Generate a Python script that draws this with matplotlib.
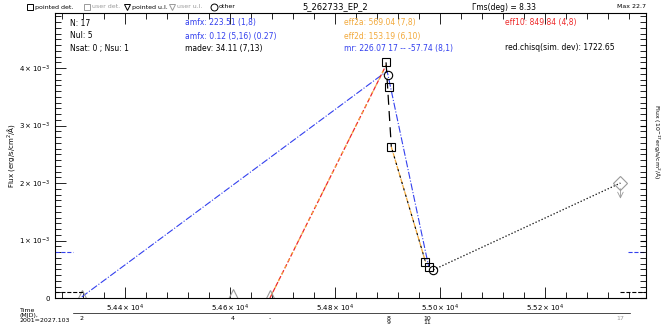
import matplotlib
matplotlib.use('Agg')
import matplotlib.pyplot as plt
from matplotlib.ticker import MultipleLocator, FuncFormatter

# detections (black squares)
det_mjd = [54897, 54903, 54907, 54972, 54979]
det_flux = [4.10e-3, 3.67e-3, 2.63e-3, 0.63e-3, 0.54e-3]
# other points (circles)
oth_mjd = [54901, 54987]
oth_flux = [3.88e-3, 0.49e-3]
# upper limits (grey triangles)
ul_mjd = [54318, 54606, 54676]
ul_flux = [0.03e-3, 0.05e-3, 0.04e-3]
# late point (diamond + arrow)
late_mjd = [55343]
late_flux = [2.00e-3]

# connecting lines
blue_mjd = [54318, 54899, 54978]
blue_flux = [0.02e-3, 3.95e-3, 0.55e-3]
red_mjd = [54676, 54897]
red_flux = [0.0, 4.05e-3]
blk_mjd = [54897, 54907, 54972]
blk_flux = [4.10e-3, 2.63e-3, 0.63e-3]
dot_mjd = [54987, 55343]
dot_flux = [0.49e-3, 2.00e-3]

blue_level = 0.8e-3
black_level = 0.1e-3

epoch_mjd = [54318, 54606, 54676, 54902, 54975, 55343]
epoch_lab = ['2', '4', '-', '8\n9', '10\n11', '17']

BLUE = '#3340ee'
ORANGE = '#f2a93b'
RED = '#ee2a2a'
GREY = '#9a9a9a'

fig = plt.figure(figsize=(6.71, 3.32), dpi=100)
ax = fig.add_axes([0.082, 0.1024, 0.881, 0.8586])
xmin, xmax = 54267, 55392
ax.set_xlim(xmin, xmax)
ax.set_ylim(0, 4.96e-3)

# lines
ax.plot(blue_mjd, blue_flux, color=BLUE, ls='-.', lw=0.8)
ax.plot(red_mjd, red_flux, color=RED, ls='--', lw=0.9)
ax.plot(red_mjd, red_flux, color=ORANGE, ls=(3, (2, 4)), lw=0.9)
ax.plot(blk_mjd[:2], blk_flux[:2], color='k', ls=(0, (8, 5)), lw=0.9)
ax.plot(blk_mjd[1:], blk_flux[1:], color=ORANGE, ls='--', lw=0.9)
ax.plot(blk_mjd[1:], blk_flux[1:], color='k', ls=(3, (2, 4)), lw=0.8)
ax.plot(dot_mjd, dot_flux, color='k', ls=':', lw=0.9)

# markers
ax.plot(det_mjd, det_flux, 's', ms=6, mfc='none', mec='k', mew=0.8)
ax.plot(oth_mjd, oth_flux, 'o', ms=6, mfc='none', mec='k', mew=0.8)
ax.plot(ul_mjd, ul_flux, '^', ms=8, mfc='none', mec=GREY, mew=0.8)
ax.plot(late_mjd, late_flux, 'D', ms=7, mfc='none', mec=GREY, mew=0.8)
ax.annotate('', xy=(late_mjd[0], late_flux[0] - 0.32e-3), xytext=(late_mjd[0], late_flux[0] - 0.05e-3),
            arrowprops=dict(arrowstyle='->', color=GREY, lw=0.6))

# edge level markers
ax.plot([xmin, xmin + 35], [blue_level] * 2, color=BLUE, ls='--', lw=0.8)
ax.plot([xmax - 35, xmax], [blue_level] * 2, color=BLUE, ls='--', lw=0.8)
ax.plot([xmin, xmin + 55], [black_level] * 2, color='k', ls='--', lw=0.8)
ax.plot([xmax - 50, xmax], [black_level] * 2, color='k', ls='--', lw=0.8)

# ticks
ax.xaxis.set_major_locator(MultipleLocator(200))
ax.xaxis.set_minor_locator(MultipleLocator(40))
ax.yaxis.set_major_locator(MultipleLocator(1e-3))
ax.yaxis.set_minor_locator(MultipleLocator(0.1e-3))
ax.tick_params(which='both', direction='in', top=True, right=True, labelsize=5)
ax.tick_params(which='major', length=8, width=0.6)
ax.tick_params(which='minor', length=4, width=0.6)
ax.xaxis.set_major_formatter(FuncFormatter(lambda v, p: r'$%.2f\times10^4$' % (v / 1e4)))
def yfmt(v, p):
    if abs(v) < 1e-9:
        return '0'
    return r'$%d\times10^{-3}$' % round(v * 1e3)
ax.yaxis.set_major_formatter(FuncFormatter(yfmt))
for s in ax.spines.values():
    s.set_linewidth(0.6)

ax.set_ylabel('Flux (erg/s/cm$^2$/Å)', fontsize=5, labelpad=2)
ax2 = ax.twinx()
ax2.set_ylim(0, 4.96e-3)
ax2.yaxis.set_major_locator(MultipleLocator(1e-3))
ax2.yaxis.set_minor_locator(MultipleLocator(0.1e-3))
ax2.tick_params(which='both', direction='in', labelright=False, length=4)
ax2.set_ylabel('Flux (10$^{-17}$erg/s/cm$^2$/Å)', fontsize=4.5, rotation=270,
               va='center', ha='center')
ax2.yaxis.set_label_coords(1.016, 0.55)

# stats block
fs = 5.5
def at(xp, yp, s, c='k', **kw):
    fig.text(xp / 671, 1 - yp / 332, s, color=c, fontsize=fs, va='center', **kw)

at(70, 23, 'N: 17')
at(70, 36, 'Nul: 5')
at(70, 48, 'Nsat: 0 ; Nsu: 1')
at(185, 23, 'amfx: 223.51 (1,8)', BLUE)
at(185, 36, 'amfx: 0.12 (5,16) (0.27)', BLUE)
at(185, 48, 'madev: 34.11 (7,13)')
at(344, 23, 'eff2a: 569.04 (7,8)', ORANGE)
at(344, 36, 'eff2d: 153.19 (6,10)', ORANGE)
at(344, 48, 'mr: 226.07 17 -- -57.74 (8,1)', BLUE)
at(505, 23, 'eff10: 849.84 (4,8)', RED)
at(505, 48, 'red.chisq(sim. dev): 1722.65')

# header / legend row
fig.text(0.5, 1 - 7 / 332, '5_262733_EP_2', fontsize=6, ha='center', va='center')
at(472, 7, 'Γms(deg) = 8.33')
fig.text(646 / 671, 1 - 7 / 332, 'Max 22.7', fontsize=4.5, ha='right', va='center')
leg = [(30, 's', 'k', 'pointed det.'), (87, 's', GREY, 'user det.'),
       (127, 'v', 'k', 'pointed u.l.'), (172, 'v', GREY, 'user u.l.'), (214, 'o', 'k', 'other')]
for xp, m, c, lab in leg:
    fig.lines.append(plt.Line2D([xp / 671], [1 - 7 / 332], marker=m, ms=5, mfc='none', mec=c,
                                mew=0.7, ls='none', transform=fig.transFigure))
    fig.text((xp + 5) / 671, 1 - 7 / 332, lab, fontsize=4.5, color=c, va='center')

# bottom: time label and epoch axis
fig.text(20 / 671, 1 - 315 / 332, 'Time\n(MJD),\n2001=2027.103', fontsize=4.5, va='center',
         linespacing=1.0)
epoch_y = 313
x0p, x1p = 55, 646
def mjd2px(m):
    return x0p + (m - xmin) / (xmax - xmin) * (x1p - x0p)
fig.lines.append(plt.Line2D([73 / 671, 630 / 671], [1 - epoch_y / 332] * 2, color='k', lw=0.5,
                            transform=fig.transFigure))
for m, lab in zip(epoch_mjd, epoch_lab):
    c = GREY if lab == '17' else 'k'
    fig.text(mjd2px(m) / 671, 1 - (epoch_y + 3) / 332, lab, fontsize=4.5, ha='center', va='top',
             color=c, linespacing=0.8)

fig.savefig('out.png', dpi=100)
